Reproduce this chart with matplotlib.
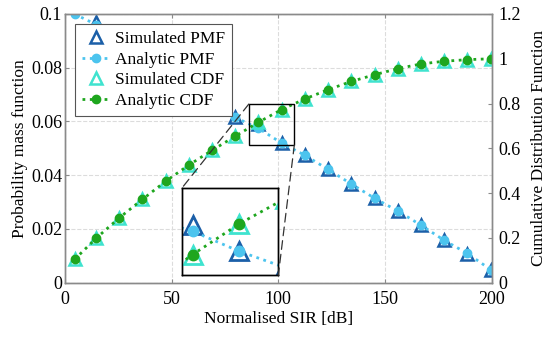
import numpy as np
import matplotlib.pyplot as plt
from matplotlib.patches import Rectangle, ConnectionPatch
from matplotlib.ticker import FuncFormatter

plt.rcParams['font.family'] = ['Liberation Serif', 'DejaVu Serif']

# ---------------- DATA ----------------
sir = [4.5, 14.8, 25.5, 36.3, 47.2, 58.0, 68.9, 79.8, 90.6, 101.5,
       112.3, 123.3, 134.3, 145.2, 156.0, 166.9, 177.7, 188.6, 199.5]

pmf_sim = [0.103, 0.097, 0.091, 0.085, 0.079, 0.073, 0.068, 0.0618, 0.0592, 0.052,
           0.0476, 0.0425, 0.0367, 0.0314, 0.0266, 0.0213, 0.0158, 0.0108, 0.0049]
pmf_ana = [0.1, 0.096, 0.091, 0.085, 0.079, 0.073, 0.068, 0.0615, 0.0575, 0.052,
           0.0475, 0.0422, 0.0367, 0.0314, 0.0267, 0.0214, 0.0158, 0.0109, 0.0049]

cdf_sim = [0.104, 0.2, 0.29, 0.372, 0.453, 0.525, 0.591, 0.654, 0.716, 0.773,
           0.82, 0.862, 0.899, 0.929, 0.956, 0.977, 0.989, 0.996, 1.0]
cdf_ana = [0.104, 0.2, 0.29, 0.372, 0.453, 0.525, 0.591, 0.654, 0.716, 0.773,
           0.82, 0.862, 0.899, 0.929, 0.956, 0.977, 0.989, 0.996, 1.0]

labels = ["Simulated PMF", "Analytic PMF", "Simulated CDF", "Analytic CDF"]

# zoom window (data units, left axis) and inset placement
zoom_x = (86.2, 107.5)
zoom_y = (0.0512, 0.0665)
inset_bounds = [54.7, 0.0028, 45.3, 0.0323]
inset_xlim = (88.0, 110.7)
inset_pmf_ylim = (0.0454, 0.0693)
inset_cdf_ylim = (0.6775, 0.839)
# ----------------------------------------

c_pmf_sim = "#1b5fa8"
c_pmf_ana = "#4cc4ee"
c_cdf_sim = "#3fe3cf"
c_cdf_ana = "#1ea61e"
frame = "#8a8a8a"

fig = plt.figure(figsize=(5.5, 3.37), dpi=100)
ax = fig.add_axes([0.118, 0.161, 0.776, 0.7975])
ax2 = ax.twinx()


def draw(a, b, ms_tri, ms_dot, mew):
    h1, = a.plot(sir, pmf_sim, ls="none", marker="^", ms=ms_tri, mfc="none",
                 mec=c_pmf_sim, mew=mew)
    h2, = a.plot(sir, pmf_ana, ls=":", lw=2, color=c_pmf_ana, marker="o",
                 ms=ms_dot, mfc=c_pmf_ana, mec=c_pmf_ana)
    h3, = b.plot(sir, cdf_sim, ls="none", marker="^", ms=ms_tri, mfc="none",
                 mec=c_cdf_sim, mew=mew)
    h4, = b.plot(sir, cdf_ana, ls=":", lw=2, color=c_cdf_ana, marker="o",
                 ms=ms_dot, mfc=c_cdf_ana, mec=c_cdf_ana)
    return [h1, h2, h3, h4]


handles = draw(ax, ax2, 9, 6, 1.8)

ax.set_xlim(0, 200)
ax.set_ylim(0, 0.1)
ax2.set_ylim(0, 1.2)
ax.set_xticks([0, 50, 100, 150, 200])
ax.set_yticks(np.arange(0, 0.101, 0.02))
ax2.set_yticks(np.arange(0, 1.21, 0.2))
fmt = FuncFormatter(lambda v, p: f"{v:.2f}".rstrip("0").rstrip(".") if v else "0")
ax.yaxis.set_major_formatter(fmt)
ax2.yaxis.set_major_formatter(FuncFormatter(lambda v, p: f"{v:g}"))

ax.grid(True, ls="--", lw=0.8, color="#dcdcdc")
for a in (ax, ax2):
    for s in a.spines.values():
        s.set_color(frame)
        s.set_linewidth(1)
ax.tick_params(axis="x", direction="in", length=3, color=frame, top=True,
               labelsize=13, pad=6)
ax.tick_params(axis="y", direction="in", length=3, color=frame, labelsize=13, pad=2)
ax2.tick_params(axis="y", direction="in", length=3, color=frame, labelsize=13, pad=5)

ax.set_xlabel("Normalised SIR [dB]", fontsize=12.5, labelpad=2)
ax.set_ylabel("Probability mass function", fontsize=12.5, labelpad=2)
ax2.set_ylabel("Cumulative Distribution Function", fontsize=12.5, labelpad=7)

# zoom box on the main plot
ax2.add_patch(Rectangle((zoom_x[0], zoom_y[0] * 12), zoom_x[1] - zoom_x[0],
                        (zoom_y[1] - zoom_y[0]) * 12, fill=False,
                        ec="black", lw=1, zorder=4))

# inset
axin = ax2.inset_axes(inset_bounds, transform=ax.transData)
axin2 = ax2.inset_axes(inset_bounds, transform=ax.transData)
axin2.patch.set_visible(False)
draw(axin, axin2, 13, 7.5, 2)
for a, yl in ((axin, inset_pmf_ylim), (axin2, inset_cdf_ylim)):
    a.set_xlim(inset_xlim)
    a.set_ylim(yl)
    a.set_xticks([])
    a.set_yticks([])
    for s in a.spines.values():
        s.set_color("black")
        s.set_linewidth(1)

for xa, xb in (((zoom_x[0], zoom_y[1]), (0, 1)), ((zoom_x[1], zoom_y[0]), (1, 0))):
    con = ConnectionPatch(xyA=xa, coordsA=ax.transData, xyB=xb,
                          coordsB=axin.transAxes, ls=(0, (7, 4)),
                          color="#333333", lw=0.9)
    fig.add_artist(con)

leg = ax2.legend(handles, labels, loc="upper left", bbox_to_anchor=(0.024, 0.962),
                 borderaxespad=0, fontsize=12.5, frameon=True, fancybox=False,
                 framealpha=1, edgecolor="#555555", handlelength=1.6,
                 handletextpad=0.3, labelspacing=0.25, borderpad=0.4)
leg.get_frame().set_linewidth(0.8)
leg.set_zorder(10)

fig.savefig("out.png", dpi=100)
